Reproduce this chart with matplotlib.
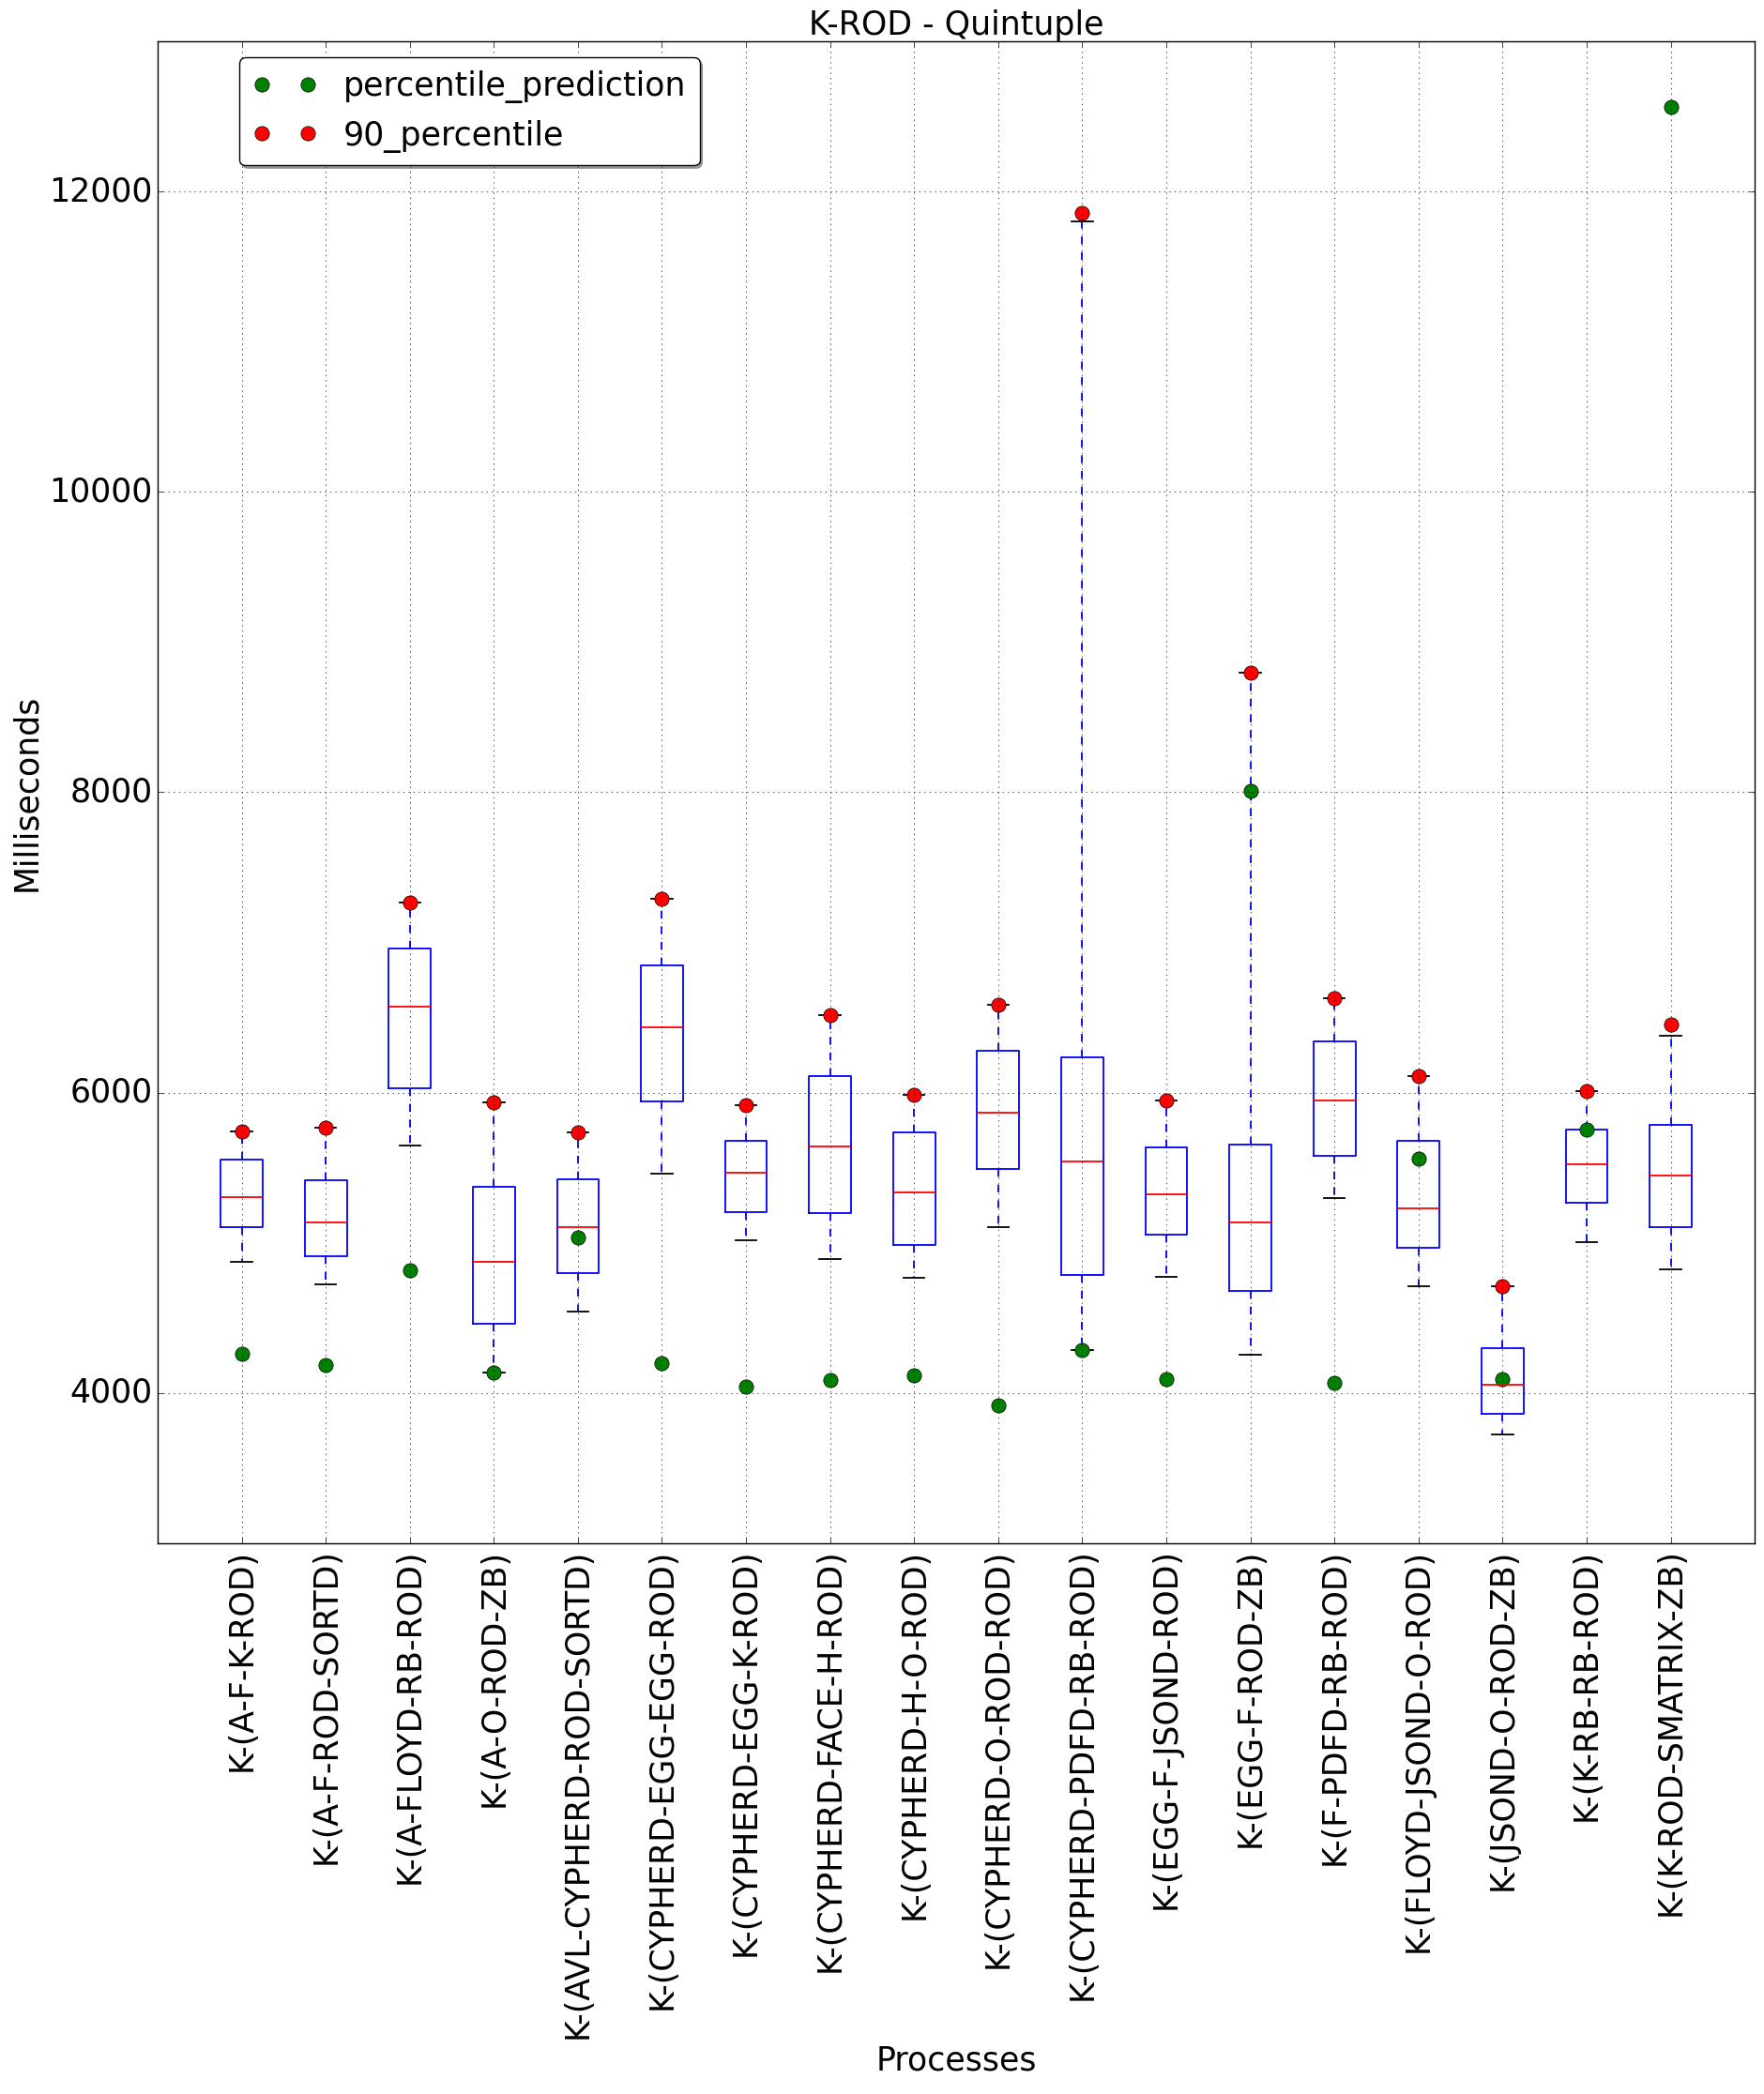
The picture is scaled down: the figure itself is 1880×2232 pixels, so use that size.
import matplotlib
matplotlib.use('Agg')
import matplotlib.pyplot as plt

labels = ["K-(A-F-K-ROD)", "K-(A-F-ROD-SORTD)", "K-(A-FLOYD-RB-ROD)", "K-(A-O-ROD-ZB)",
          "K-(AVL-CYPHERD-ROD-SORTD)", "K-(CYPHERD-EGG-EGG-ROD)", "K-(CYPHERD-EGG-K-ROD)",
          "K-(CYPHERD-FACE-H-ROD)", "K-(CYPHERD-H-O-ROD)", "K-(CYPHERD-O-ROD-ROD)",
          "K-(CYPHERD-PDFD-RB-ROD)", "K-(EGG-F-JSOND-ROD)", "K-(EGG-F-ROD-ZB)",
          "K-(F-PDFD-RB-ROD)", "K-(FLOYD-JSOND-O-ROD)", "K-(JSOND-O-ROD-ZB)",
          "K-(K-RB-RB-ROD)", "K-(K-ROD-SMATRIX-ZB)"]

# box statistics (ms)
whislo = [4875, 4722, 5649, 4136, 4541, 5461, 5016, 4892, 4768, 5105, 4284, 4774, 4255, 5298, 4710, 3725, 5004, 4826]
q1 = [5105, 4912, 6029, 4460, 4798, 5943, 5204, 5199, 4986, 5491, 4786, 5053, 4680, 5580, 4969, 3862, 5266, 5105]
med = [5305, 5135, 6574, 4872, 5105, 6435, 5466, 5641, 5335, 5869, 5543, 5323, 5135, 5948, 5229, 4054, 5525, 5449]
q3 = [5555, 5417, 6959, 5372, 5424, 6848, 5678, 6111, 5735, 6279, 6235, 5634, 5656, 6341, 5679, 4297, 5753, 5785]
whishi = [5743, 5767, 7268, 5938, 5738, 7288, 5918, 6519, 5988, 6588, 11798, 5951, 8798, 6630, 6111, 4710, 6012, 6381]

p90 = [5743, 5767, 7268, 5938, 5738, 7288, 5918, 6519, 5988, 6588, 11854, 5951, 8798, 6630, 6111, 4710, 6012, 6455]
pred = [4262, 4185, 4820, 4136, 5035, 4197, 4042, 4086, 4116, 3916, 4284, 4091, 8012, 4067, 5562, 4091, 5753, 12563]

plt.style.use('classic')
plt.rcParams['font.family'] = ['DejaVu Sans']
plt.rcParams['font.size'] = 25

fig, ax = plt.subplots(figsize=(18.81, 22.32))
fig.subplots_adjust(left=0.0893, right=0.9942, bottom=0.263, top=0.9803)

stats = []
for i in range(len(labels)):
    stats.append({'whislo': whislo[i], 'q1': q1[i], 'med': med[i], 'q3': q3[i],
                  'whishi': whishi[i], 'fliers': [], 'label': labels[i]})
pos = list(range(1, len(labels) + 1))
ax.bxp(stats, positions=pos, widths=0.5,
       boxprops=dict(linewidth=1.3), whiskerprops=dict(linewidth=1.3),
       capprops=dict(linewidth=1.3), medianprops=dict(linewidth=1.3))

ax.plot(pos, pred, 'go', markersize=11, label='percentile_prediction')
ax.plot(pos, p90, 'ro', markersize=11, label='90_percentile')

ax.set_xlim(0, len(labels) + 1)
ax.set_ylim(3000, 13000)
ax.set_yticks([4000, 6000, 8000, 10000, 12000])
ax.set_xticks(pos)
ax.set_xticklabels(labels, rotation=90)
ax.grid(True)

ax.set_title("K-ROD - Quintuple", fontsize=25)
ax.set_xlabel("Processes", fontsize=25)
ax.set_ylabel("Milliseconds", fontsize=25)
ax.legend(loc='upper left', bbox_to_anchor=(0.041, 1.0), numpoints=2,
          fancybox=True, shadow=True, fontsize=25)

fig.savefig('out.png', dpi=100)
